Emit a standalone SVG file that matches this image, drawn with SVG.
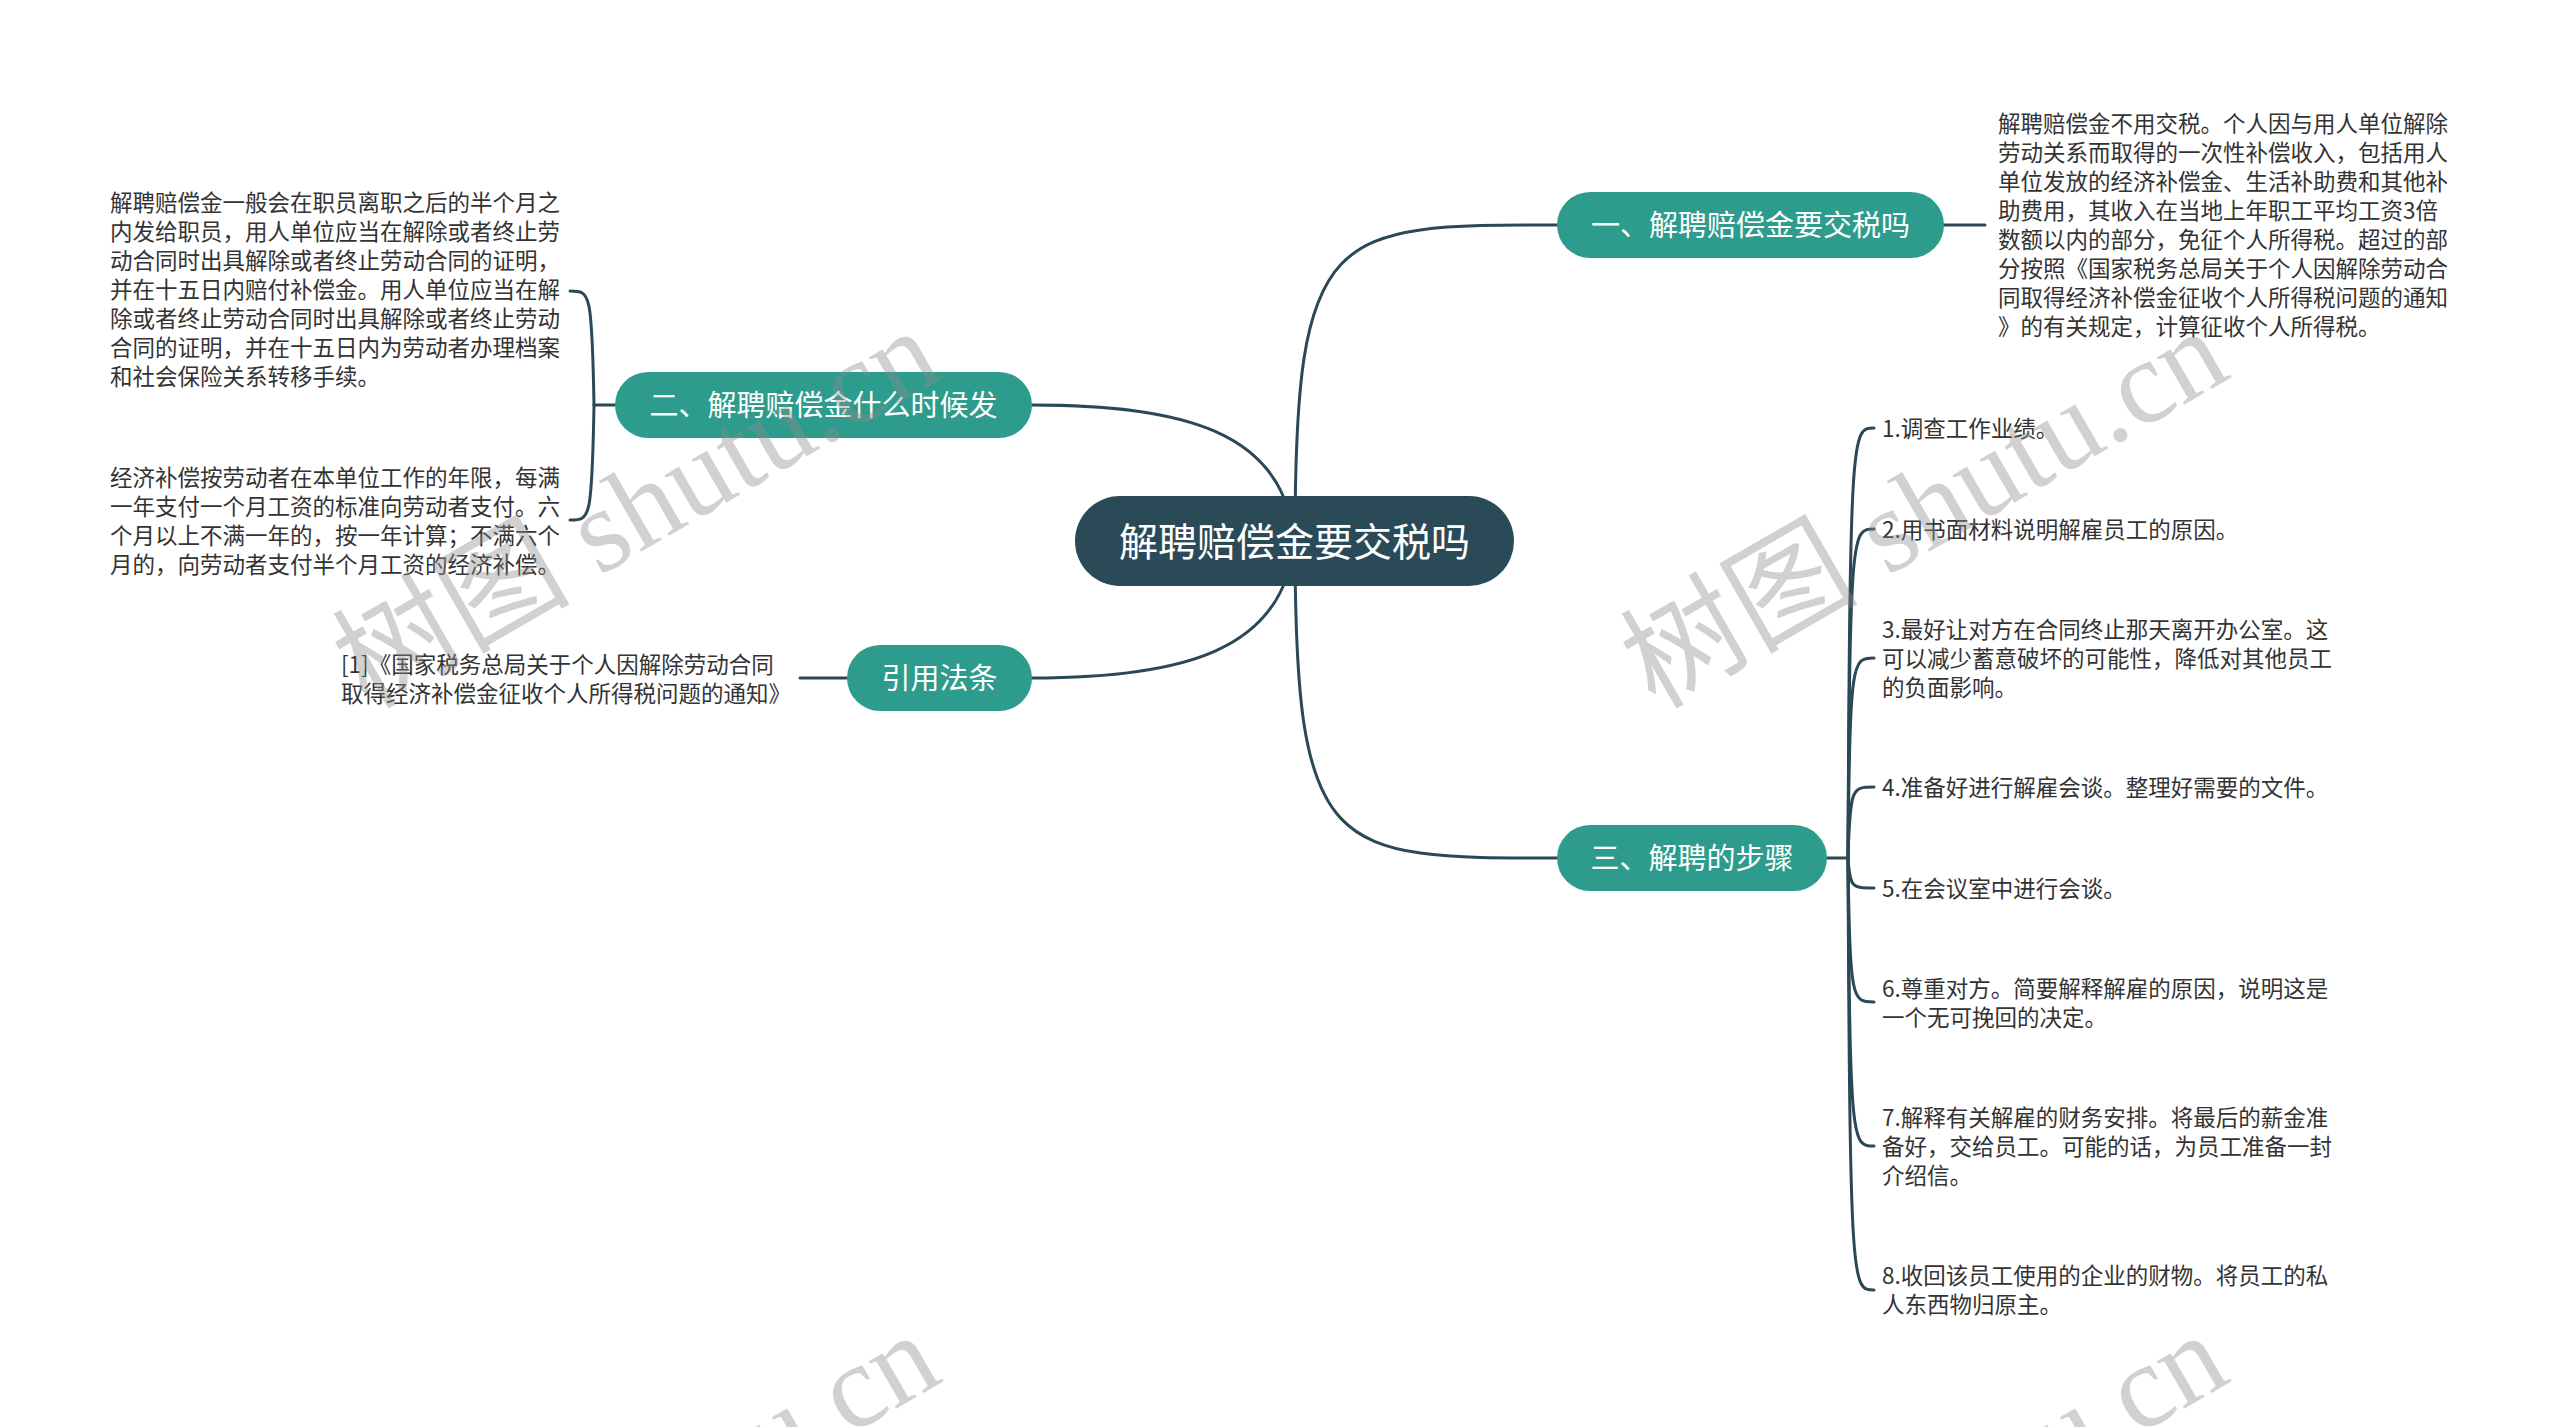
<svg xmlns="http://www.w3.org/2000/svg" width="2560" height="1427" viewBox="0 0 2560 1427">
<defs>
<style>
.bg{fill:#ffffff}
.conn{fill:none;stroke:#2b4856;stroke-width:3;stroke-linecap:round}
.root{fill:#2a4a58}
.main{fill:#2e9c8c}
.rt{font-family:"Noto Sans CJK SC","Noto Sans",sans-serif;font-size:39px;fill:#ffffff;text-anchor:middle}
.mt{font-family:"Noto Sans CJK SC","Noto Sans",sans-serif;font-size:29px;fill:#ffffff;text-anchor:middle}
.bt{font-family:"Noto Sans CJK SC","Noto Sans",sans-serif;font-size:22.5px;fill:#333333}
.wm{font-family:"Liberation Serif","Noto Sans CJK SC",serif;font-size:119px;fill:#8c8c8c;fill-opacity:0.4}
</style>
</defs>
<rect class="bg" x="0" y="0" width="2560" height="1427"/>

<g id="connectors">
<path class="conn" d="M1295,541 C1295,225 1330,225 1557,225"/>
<path class="conn" d="M1294,541 C1285,430 1180,405 1032,405"/>
<path class="conn" d="M1294,541 C1285,652 1180,678 1032,678"/>
<path class="conn" d="M1295,541 C1295,858 1330,858 1557,858"/>
<path class="conn" d="M1944,225 H1985"/>
<path class="conn" d="M847,678 H800"/>
<path class="conn" d="M615,405 H594"/>
<path class="conn" d="M594,405 C592,291 590,291 570,291"/>
<path class="conn" d="M594,405 C592,520 590,520 570,520"/>
<path class="conn" d="M1827,858 H1848"/>
<path class="conn" d="M1848,858 C1850,428 1852,428 1874,428"/>
<path class="conn" d="M1848,858 C1850,529 1852,529 1874,529"/>
<path class="conn" d="M1848,858 C1850,658 1852,658 1874,658"/>
<path class="conn" d="M1848,858 C1850,787 1852,787 1874,787"/>
<path class="conn" d="M1848,858 C1850,888 1852,888 1874,888"/>
<path class="conn" d="M1848,858 C1850,1002 1852,1002 1874,1002"/>
<path class="conn" d="M1848,858 C1850,1146 1852,1146 1874,1146"/>
<path class="conn" d="M1848,858 C1850,1290 1852,1290 1874,1290"/>
</g>

<g id="root">
<rect class="root" x="1075" y="496" width="439" height="90" rx="45"/>
<text class="rt" x="1294.5" y="556">解聘赔偿金要交税吗</text>
</g>

<g id="n1">
<rect class="main" x="1557" y="192" width="387" height="66" rx="33"/>
<text class="mt" x="1750.5" y="236">一、解聘赔偿金要交税吗</text>
</g>
<g id="n1-detail">
<text class="bt" x="1998" y="132">解聘赔偿金不用交税。个人因与用人单位解除</text>
<text class="bt" x="1998" y="161">劳动关系而取得的一次性补偿收入，包括用人</text>
<text class="bt" x="1998" y="190">单位发放的经济补偿金、生活补助费和其他补</text>
<text class="bt" x="1998" y="219">助费用，其收入在当地上年职工平均工资3倍</text>
<text class="bt" x="1998" y="248">数额以内的部分，免征个人所得税。超过的部</text>
<text class="bt" x="1998" y="277">分按照《国家税务总局关于个人因解除劳动合</text>
<text class="bt" x="1998" y="306">同取得经济补偿金征收个人所得税问题的通知</text>
<text class="bt" x="1998" y="335">》的有关规定，计算征收个人所得税。</text>
</g>

<g id="n2">
<rect class="main" x="615" y="372" width="417" height="66" rx="33"/>
<text class="mt" x="823.5" y="416">二、解聘赔偿金什么时候发</text>
</g>
<g id="n2-a">
<text class="bt" x="110" y="211">解聘赔偿金一般会在职员离职之后的半个月之</text>
<text class="bt" x="110" y="240">内发给职员，用人单位应当在解除或者终止劳</text>
<text class="bt" x="110" y="269">动合同时出具解除或者终止劳动合同的证明，</text>
<text class="bt" x="110" y="298">并在十五日内赔付补偿金。用人单位应当在解</text>
<text class="bt" x="110" y="327">除或者终止劳动合同时出具解除或者终止劳动</text>
<text class="bt" x="110" y="356">合同的证明，并在十五日内为劳动者办理档案</text>
<text class="bt" x="110" y="385">和社会保险关系转移手续。</text>
</g>
<g id="n2-b">
<text class="bt" x="110" y="486">经济补偿按劳动者在本单位工作的年限，每满</text>
<text class="bt" x="110" y="515">一年支付一个月工资的标准向劳动者支付。六</text>
<text class="bt" x="110" y="544">个月以上不满一年的，按一年计算；不满六个</text>
<text class="bt" x="110" y="573">月的，向劳动者支付半个月工资的经济补偿。</text>
</g>

<g id="cite">
<rect class="main" x="847" y="645" width="185" height="66" rx="33"/>
<text class="mt" x="939.5" y="689">引用法条</text>
</g>
<g id="cite-detail">
<text class="bt" x="341" y="673">[1]《国家税务总局关于个人因解除劳动合同</text>
<text class="bt" x="341" y="702">取得经济补偿金征收个人所得税问题的通知》</text>
</g>

<g id="n3">
<rect class="main" x="1557" y="825" width="270" height="66" rx="33"/>
<text class="mt" x="1692" y="869">三、解聘的步骤</text>
</g>
<g id="s1"><text class="bt" x="1882" y="437">1.调查工作业绩。</text></g>
<g id="s2"><text class="bt" x="1882" y="538">2.用书面材料说明解雇员工的原因。</text></g>
<g id="s3">
<text class="bt" x="1882" y="638">3.最好让对方在合同终止那天离开办公室。这</text>
<text class="bt" x="1882" y="667">可以减少蓄意破坏的可能性，降低对其他员工</text>
<text class="bt" x="1882" y="696">的负面影响。</text>
</g>
<g id="s4"><text class="bt" x="1882" y="796">4.准备好进行解雇会谈。整理好需要的文件。</text></g>
<g id="s5"><text class="bt" x="1882" y="897">5.在会议室中进行会谈。</text></g>
<g id="s6">
<text class="bt" x="1882" y="997">6.尊重对方。简要解释解雇的原因，说明这是</text>
<text class="bt" x="1882" y="1026">一个无可挽回的决定。</text>
</g>
<g id="s7">
<text class="bt" x="1882" y="1126">7.解释有关解雇的财务安排。将最后的薪金准</text>
<text class="bt" x="1882" y="1155">备好，交给员工。可能的话，为员工准备一封</text>
<text class="bt" x="1882" y="1184">介绍信。</text>
</g>
<g id="s8">
<text class="bt" x="1882" y="1284">8.收回该员工使用的企业的财物。将员工的私</text>
<text class="bt" x="1882" y="1313">人东西物归原主。</text>
</g>

<g id="watermarks">
<text class="wm" transform="translate(367,710) rotate(-30)">树图 shutu.cn</text>
<text class="wm" transform="translate(1655,710) rotate(-30)">树图 shutu.cn</text>
<text class="wm" transform="translate(367,1714) rotate(-30)">树图 shutu.cn</text>
<text class="wm" transform="translate(1655,1714) rotate(-30)">树图 shutu.cn</text>
</g>
</svg>
